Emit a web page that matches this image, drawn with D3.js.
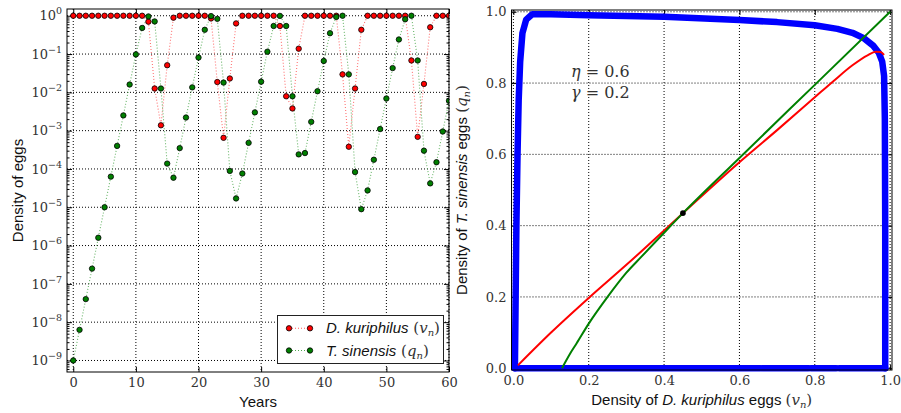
<!DOCTYPE html>
<html>
<head>
<meta charset="utf-8">
<script src="https://cdnjs.cloudflare.com/ajax/libs/d3/7.8.5/d3.min.js"></script>
<style>
body { margin: 0; background: #fff; }
.lbl { font-family: "Liberation Sans", Arial, sans-serif; font-size: 15px; fill: #111; }
.math { font-family: "DejaVu Serif", serif; fill: #333; }
</style>
</head>
<body>
<script>

// left panel: egg densities per year
var years = [0,1,2,3,4,5,6,7,8,9,10,11,12,13,14,15,16,17,18,19,20,
  21,22,23,24,25,26,27,28,29,30,31,32,33,34,35,36,37,38,39,40,
  41,42,43,44,45,46,47,48,49,50,51,52,53,54,55,56,57,58,59,60];

// D. kuriphilus (v_n)
var kuriphilus = [1,1,1,1,1,1,1,1,1,1,1,1,
  0.70, 0.0126, 1.38e-3, 0.051, 0.89,
  1,1,1,1,1,
  0.85, 0.0186, 6.5e-4, 0.023, 0.63,
  1,1,1,1,1,1,
  0.54, 7.9e-3, 3.8e-3, 0.138,
  1,1,1,1,1,1,
  0.0295, 3.8e-4, 0.0126, 0.43,
  1,1,1,1,1,1,1,
  0.068, 6.9e-4, 0.0166, 0.5,
  1,1,1];

// T. sinensis (q_n)
var sinensis = [1e-9, 6.3e-9, 4e-8, 2.5e-7, 1.6e-6, 1e-5, 6.3e-5, 4e-4, 2.5e-3, 0.016, 0.098, 0.48,
  0.96, 0.71, 0.0126, 1.38e-4, 5.9e-5, 3.5e-4, 2.2e-3, 0.0135, 0.081, 0.43,
  0.98, 0.83, 0.018, 8.9e-5, 1.7e-5, 7.6e-5, 4.8e-4, 3.0e-3, 0.019, 0.115, 0.54,
  0.99, 0.54, 7.9e-3, 2.4e-4, 2.6e-4, 1.7e-3, 0.0107, 0.066, 0.35, 0.93,
  1.0, 0.0295, 8.3e-5, 8.9e-6, 2.75e-5, 1.74e-4, 1.1e-3, 6.9e-3, 0.043, 0.24, 0.81,
  1.0, 0.068, 3.0e-4, 4.2e-5, 1.5e-4, 9.5e-4, 6.0e-3];

var yearTicks = [0,10,20,30,40,50,60];
var powerTicks = [0,-1,-2,-3,-4,-5,-6,-7,-8,-9];

// right panel: phase plane
var phaseTicks = [0, 0.2, 0.4, 0.6, 0.8, 1.0];
var phaseTickLabels = ["0.0","0.2","0.4","0.6","0.8","1.0"];

// orbit (v_n, q_n), left side + top + right side
var orbitLoop = [[0.004,0.0],[0.006,0.2],[0.008,0.4],[0.011,0.6],[0.014,0.75],[0.018,0.86],
  [0.024,0.94],[0.034,0.978],[0.05,0.993],[0.1,0.993],[0.2,0.99],[0.4,0.986],[0.6,0.977],
  [0.7,0.971],[0.8,0.962],[0.86,0.952],[0.9,0.941],[0.93,0.926],[0.955,0.905],[0.97,0.885],
  [0.979,0.86],[0.984,0.82],[0.986,0.7],[0.987,0.4],[0.987,0.0]];
// orbit along the bottom edge (pieces between gaps)
var orbitBottom = [[0.004,0.655],[0.661,0.783],[0.79,0.857],[0.865,0.987]];

var redCurve = [[0.012,0.008],[0.1,0.1],[0.2,0.197],[0.3,0.29],[0.45,0.435],[0.6,0.578],
  [0.7,0.668],[0.8,0.76],[0.85,0.806],[0.9,0.85],[0.94,0.878],[0.962,0.888],[0.975,0.887],[0.984,0.879]];
var greenCurve = [[0.129,0.0],[0.15,0.04],[0.168,0.07],[0.2,0.125],[0.25,0.2],[0.3,0.268],
  [0.34,0.313],[0.4,0.38],[0.45,0.435],[0.6,0.59],[0.8,0.795],[1.0,1.0]];
var fixedPoint = [0.45, 0.435];

var svg = d3.select("body").append("svg")
    .attr("width", 901)
    .attr("height", 413);

svg.append("rect").attr("width", 901).attr("height", 413).attr("fill", "#fff");

// serif tick labels like the mathtext ones
function serifTicks(g) {
  g.selectAll(".tick text")
    .style("font-family", "'DejaVu Serif', serif")
    .style("font-size", "13px")
    .style("fill", "#333");
}

// ================= left panel =================
var L = {left: 67, right: 449, top: 9, bottom: 372};
var x1 = d3.scaleLinear().domain([-1, 60]).range([L.left, L.right]);
var y1 = d3.scaleLog().domain([5e-10, 1.5]).range([L.bottom, L.top]);

var g1 = svg.append("g");

// grid
g1.selectAll(".vg").data(yearTicks).enter().append("line")
  .attr("x1", function(d){ return x1(d); })
  .attr("x2", function(d){ return x1(d); })
  .attr("y1", L.top).attr("y2", L.bottom)
  .attr("stroke", "#000").attr("stroke-dasharray", "1,2");
g1.selectAll(".hg").data(powerTicks).enter().append("line")
  .attr("x1", L.left).attr("x2", L.right)
  .attr("y1", function(p){ return y1(Math.pow(10, p)); })
  .attr("y2", function(p){ return y1(Math.pow(10, p)); })
  .attr("stroke", "#000").attr("stroke-dasharray", "1,2");

// minor log ticks
var minors = [];
for (var k = -10; k <= 0; k++) {
  for (var m = 2; m <= 9; m++) {
    var v = m * Math.pow(10, k);
    if (v > 5e-10 && v < 1.5) minors.push(v);
  }
}

// axes, ticks pointing inward
g1.append("g").attr("transform", "translate(0," + L.bottom + ")")
  .call(d3.axisBottom(x1).tickValues(yearTicks).tickSizeInner(-5).tickSizeOuter(0).tickPadding(6))
  .call(serifTicks);
g1.append("g").attr("transform", "translate(0," + L.top + ")")
  .call(d3.axisTop(x1).tickValues(yearTicks).tickSizeInner(-5).tickSizeOuter(0).tickFormat(""));

var yl = g1.append("g").attr("transform", "translate(" + L.left + ",0)")
  .call(d3.axisLeft(y1).tickValues(powerTicks.map(function(p){ return Math.pow(10, p); }))
    .tickSizeInner(-5).tickSizeOuter(0).tickPadding(5).tickFormat(""))
  .call(serifTicks);
yl.selectAll(".tick text").each(function(d, i) {
  var t = d3.select(this);
  var p = powerTicks[i];
  t.append("tspan").text("10");
  t.append("tspan").attr("dy", -6).style("font-size", "9.5px")
    .text(p === 0 ? "0" : "\u2212" + (-p));
});
g1.append("g").attr("transform", "translate(" + L.left + ",0)")
  .call(d3.axisLeft(y1).tickValues(minors).tickSizeInner(-2.5).tickSizeOuter(0).tickFormat(""));
g1.append("g").attr("transform", "translate(" + L.right + ",0)")
  .call(d3.axisRight(y1).tickValues(powerTicks.map(function(p){ return Math.pow(10, p); }))
    .tickSizeInner(-5).tickSizeOuter(0).tickFormat(""));
g1.append("g").attr("transform", "translate(" + L.right + ",0)")
  .call(d3.axisRight(y1).tickValues(minors).tickSizeInner(-2.5).tickSizeOuter(0).tickFormat(""));
g1.selectAll(".domain").remove();
g1.selectAll(".tick line").attr("stroke", "#000");

// clip to the plot box
svg.append("clipPath").attr("id", "clipL").append("rect")
  .attr("x", L.left).attr("y", L.top).attr("width", L.right - L.left).attr("height", L.bottom - L.top);

var plot1 = g1.append("g").attr("clip-path", "url(#clipL)");

var series = [
  {vals: kuriphilus, fill: "#ff0000", line: "#ff5a5a"},
  {vals: sinensis, fill: "#007f00", line: "#4fa84f"}
];

series.forEach(function(s) {
  var line = d3.line()
    .x(function(d, i){ return x1(years[i]); })
    .y(function(d){ return y1(d); });
  plot1.append("path").datum(s.vals)
    .attr("d", line)
    .attr("fill", "none")
    .attr("stroke", s.line)
    .attr("stroke-width", 1.1)
    .attr("stroke-dasharray", "1,2")
    .attr("opacity", 0.85);
});
series.forEach(function(s) {
  plot1.selectAll(null).data(s.vals).enter().append("circle")
    .attr("cx", function(d, i){ return x1(years[i]); })
    .attr("cy", function(d){ return y1(d); })
    .attr("r", 2.7)
    .attr("fill", s.fill)
    .attr("stroke", "#000")
    .attr("stroke-width", 0.8);
});

g1.append("rect")
  .attr("x", L.left).attr("y", L.top).attr("width", L.right - L.left).attr("height", L.bottom - L.top)
  .attr("fill", "none").attr("stroke", "#000").attr("stroke-width", 1);

// legend
var lg = g1.append("g");
lg.append("rect").attr("x", 277.5).attr("y", 315.5).attr("width", 166).attr("height", 48)
  .attr("fill", "#fff").attr("stroke", "#222").attr("stroke-width", 1);
var legendItems = [
  {name: "D. kuriphilus", sym: "v", s: series[0], y: 328.3},
  {name: "T. sinensis", sym: "q", s: series[1], y: 350.5}
];
legendItems.forEach(function(it) {
  lg.append("line").attr("x1", 289).attr("x2", 310).attr("y1", it.y).attr("y2", it.y)
    .attr("stroke", it.s.line).attr("stroke-dasharray", "1,2").attr("stroke-width", 1.1);
  [289, 310].forEach(function(cx) {
    lg.append("circle").attr("cx", cx).attr("cy", it.y).attr("r", 2.7)
      .attr("fill", it.s.fill).attr("stroke", "#000").attr("stroke-width", 0.8);
  });
  var t = lg.append("text").attr("x", 326).attr("y", it.y + 5).attr("class", "lbl");
  t.append("tspan").attr("font-style", "italic").text(it.name);
  t.append("tspan").attr("class", "math").attr("font-size", "15px").text(" (");
  t.append("tspan").attr("class", "math").attr("font-size", "15px").attr("font-style", "italic").text(it.sym);
  t.append("tspan").attr("class", "math").attr("font-size", "10px").attr("font-style", "italic").attr("dy", 3).text("n");
  t.append("tspan").attr("class", "math").attr("font-size", "15px").attr("dy", -3).text(")");
});

// axis labels
svg.append("text").attr("class", "lbl")
  .attr("x", (L.left + L.right) / 2).attr("y", 407)
  .attr("text-anchor", "middle").text("Years");
svg.append("text").attr("class", "lbl")
  .attr("transform", "translate(23," + ((L.top + L.bottom) / 2) + ") rotate(-90)")
  .attr("text-anchor", "middle").text("Density of eggs");

// ================= right panel =================
var R = {left: 511.5, right: 892, top: 10, bottom: 370};
var x2 = d3.scaleLinear().domain([-0.005, 1.005]).range([R.left, R.right]);
var y2 = d3.scaleLinear().domain([-0.005, 1.005]).range([R.bottom, R.top]);

var g2 = svg.append("g");

g2.selectAll(".vg").data(phaseTicks).enter().append("line")
  .attr("x1", function(d){ return x2(d); }).attr("x2", function(d){ return x2(d); })
  .attr("y1", R.top).attr("y2", R.bottom)
  .attr("stroke", "#000").attr("stroke-dasharray", "1,2");
g2.selectAll(".hg").data(phaseTicks).enter().append("line")
  .attr("x1", R.left).attr("x2", R.right)
  .attr("y1", function(d){ return y2(d); }).attr("y2", function(d){ return y2(d); })
  .attr("stroke", "#000").attr("stroke-dasharray", "1,2");

g2.append("g").attr("transform", "translate(0," + R.bottom + ")")
  .call(d3.axisBottom(x2).tickValues(phaseTicks).tickSizeInner(-5).tickSizeOuter(0).tickPadding(6)
    .tickFormat(function(d, i){ return phaseTickLabels[i]; }))
  .call(serifTicks);
g2.append("g").attr("transform", "translate(0," + R.top + ")")
  .call(d3.axisTop(x2).tickValues(phaseTicks).tickSizeInner(-5).tickSizeOuter(0).tickFormat(""));
g2.append("g").attr("transform", "translate(" + R.left + ",0)")
  .call(d3.axisLeft(y2).tickValues(phaseTicks).tickSizeInner(-5).tickSizeOuter(0).tickPadding(5)
    .tickFormat(function(d, i){ return phaseTickLabels[i]; }))
  .call(serifTicks);
g2.append("g").attr("transform", "translate(" + R.right + ",0)")
  .call(d3.axisRight(y2).tickValues(phaseTicks).tickSizeInner(-5).tickSizeOuter(0).tickFormat(""));
g2.selectAll(".domain").remove();
g2.selectAll(".tick line").attr("stroke", "#000");

var pline = d3.line()
  .x(function(d){ return x2(d[0]); })
  .y(function(d){ return y2(d[1]); });

// orbit of the map
g2.append("path").datum(orbitLoop)
  .attr("d", pline).attr("fill", "none")
  .attr("stroke", "#0000ff").attr("stroke-width", 6.5)
  .attr("stroke-linejoin", "round").attr("stroke-linecap", "round");
orbitBottom.forEach(function(seg) {
  g2.append("path").datum([[seg[0], 0], [seg[1], 0]])
    .attr("d", pline).attr("fill", "none")
    .attr("stroke", "#0000ff").attr("stroke-width", 6.5)
    .attr("stroke-linecap", "round");
});

// nullclines
g2.append("path").datum(redCurve)
  .attr("d", pline.curve(d3.curveMonotoneX)).attr("fill", "none")
  .attr("stroke", "#ff0000").attr("stroke-width", 2);
g2.append("path").datum(greenCurve)
  .attr("d", pline.curve(d3.curveMonotoneX)).attr("fill", "none")
  .attr("stroke", "#008000").attr("stroke-width", 2);

g2.append("circle")
  .attr("cx", x2(fixedPoint[0])).attr("cy", y2(fixedPoint[1]))
  .attr("r", 2.8).attr("fill", "#000");

g2.append("rect")
  .attr("x", R.left).attr("y", R.top).attr("width", R.right - R.left).attr("height", R.bottom - R.top)
  .attr("fill", "none").attr("stroke", "#000").attr("stroke-width", 1);

// parameter text
var params = [["\u03b7", "0.6", 77], ["\u03b3", "0.2", 98]];
params.forEach(function(p) {
  var t = g2.append("text").attr("class", "math").attr("x", 571).attr("y", p[2]).attr("font-size", "16px");
  t.append("tspan").attr("font-style", "italic").text(p[0]);
  t.append("tspan").text(" = " + p[1]);
});

// axis labels
var xl = svg.append("text").attr("class", "lbl")
  .attr("x", (R.left + R.right) / 2).attr("y", 405).attr("text-anchor", "middle");
xl.append("tspan").text("Density of ");
xl.append("tspan").attr("font-style", "italic").text("D. kuriphilus");
xl.append("tspan").text(" eggs ");
xl.append("tspan").attr("class", "math").attr("font-size", "15px").text("(");
xl.append("tspan").attr("class", "math").attr("font-size", "15px").attr("font-style", "italic").text("v");
xl.append("tspan").attr("class", "math").attr("font-size", "10px").attr("font-style", "italic").attr("dy", 3).text("n");
xl.append("tspan").attr("class", "math").attr("font-size", "15px").attr("dy", -3).text(")");

var yl2 = svg.append("text").attr("class", "lbl")
  .attr("transform", "translate(467," + ((R.top + R.bottom) / 2) + ") rotate(-90)")
  .attr("text-anchor", "middle");
yl2.append("tspan").text("Density of ");
yl2.append("tspan").attr("font-style", "italic").text("T. sinensis");
yl2.append("tspan").text(" eggs ");
yl2.append("tspan").attr("class", "math").attr("font-size", "15px").text("(");
yl2.append("tspan").attr("class", "math").attr("font-size", "15px").attr("font-style", "italic").text("q");
yl2.append("tspan").attr("class", "math").attr("font-size", "10px").attr("font-style", "italic").attr("dy", 3).text("n");
yl2.append("tspan").attr("class", "math").attr("font-size", "15px").attr("dy", -3).text(")");

</script>
</body>
</html>
